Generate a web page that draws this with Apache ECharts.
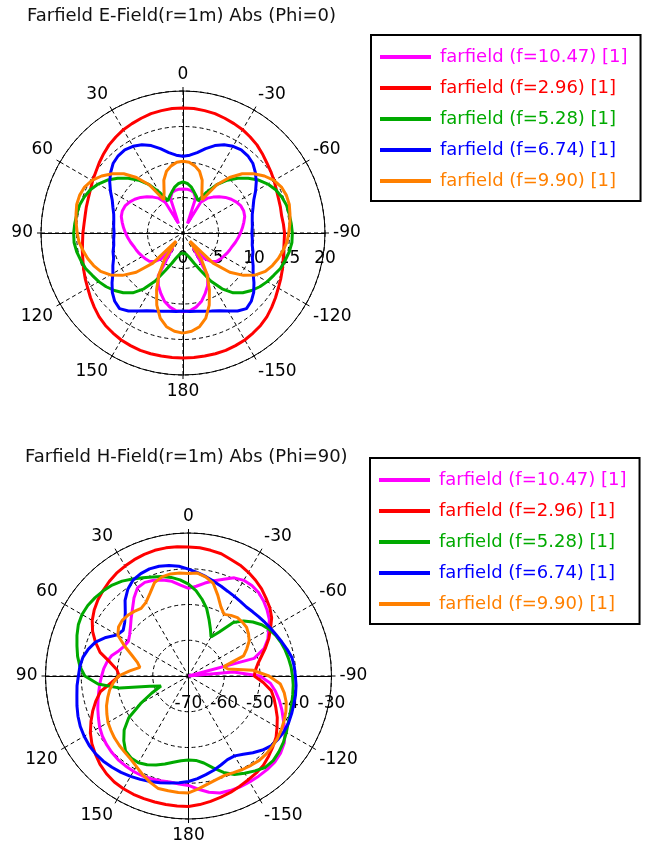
<!DOCTYPE html>
<html><head><meta charset="utf-8">
<script src="https://cdn.jsdelivr.net/npm/echarts@6/dist/echarts.min.js"></script>
<style>html,body{margin:0;padding:0;background:#fff}#c{width:646px;height:848px}</style>
</head><body><div id="c"></div>
<script>
// theta (deg), 0 = top, positive = counter-clockwise (left)
const thetaDeg = [-180,-175,-170,-165,-160,-155,-150,-145,-140,-135,-130,-125,-120,-115,-110,-105,-100,-95,-90,-85,-80,-75,-70,-65,-60,-55,-50,-45,-40,-35,-30,-25,-20,-15,-10,-5,
  0,5,10,15,20,25,30,35,40,45,50,55,60,65,70,75,80,85,90,95,100,105,110,115,120,125,130,135,140,145,150,155,160,165,170,175,180];

const seriesNames = ['farfield (f=10.47) [1]','farfield (f=2.96) [1]','farfield (f=5.28) [1]','farfield (f=6.74) [1]','farfield (f=9.90) [1]'];

// E-Field, Phi=0 (linear, 0..20)
const eMagenta = [11.1,11.0,10.6,10.0,9.1,8.2,7.0,2.5,4.7,5.7,6.2,6.4,6.6,6.8,7.0,7.2,7.5,7.8,8.1,8.4,8.7,9.0,9.1,9.0,8.7,8.3,7.8,7.2,6.6,6.0,5.0,1.5,5.2,5.9,6.1,6.2,
  6.2,6.2,6.1,5.9,5.2,1.5,5.0,6.0,6.6,7.2,7.8,8.3,8.7,9.0,9.1,9.0,8.7,8.4,8.1,7.8,7.5,7.2,7.0,6.8,6.6,6.4,6.2,5.7,4.7,2.5,7.0,8.2,9.1,10.0,10.6,11.0,11.1];
const eRed = [17.6,17.6,17.6,17.6,17.6,17.5,17.4,17.2,17.0,16.7,16.3,15.9,15.5,15.2,14.9,14.6,14.4,14.3,14.3,14.2,14.1,14.2,14.3,14.5,14.8,15.1,15.4,15.8,16.2,16.5,16.8,17.0,17.2,17.4,17.5,17.6,
  17.6,17.6,17.5,17.4,17.2,17.0,16.8,16.5,16.2,15.8,15.4,15.0,14.7,14.4,14.2,14.1,14.0,14.0,14.1,14.2,14.4,14.6,14.9,15.2,15.5,15.9,16.3,16.7,17.0,17.2,17.4,17.5,17.6,17.6,17.6,17.6,17.6];
const eGreen = [2.8,2.9,3.1,3.6,4.5,5.8,7.8,9.6,11.0,11.9,12.6,13.2,13.7,14.1,14.6,14.9,15.2,15.4,15.4,15.3,15.2,15.1,14.8,14.4,13.8,13.0,12.0,10.9,9.7,8.3,6.6,5.0,5.5,6.0,6.6,7.0,
  7.2,7.0,6.6,6.0,5.5,5.0,6.6,8.3,9.7,10.9,12.0,13.0,13.8,14.4,14.8,15.1,15.2,15.3,15.4,15.4,15.2,14.9,14.6,14.1,13.7,13.2,12.6,11.9,11.0,9.6,7.8,5.8,4.5,3.6,3.1,2.9,2.8];
const eBlue = [11.0,11.1,11.2,11.4,11.7,12.1,12.7,13.4,13.9,13.6,13.0,12.2,11.4,10.9,10.4,10.2,9.9,9.8,9.7,9.8,9.9,10.1,10.5,11.0,11.8,12.6,13.3,13.9,14.2,14.3,14.1,13.7,13.1,12.3,11.5,11.0,
  10.8,11.0,11.5,12.3,13.1,13.7,14.1,14.3,14.2,13.9,13.3,12.6,11.8,11.0,10.5,10.1,9.9,9.8,9.7,9.8,9.9,10.2,10.4,10.9,11.4,12.2,13.0,13.6,13.9,13.4,12.7,12.1,11.7,11.4,11.2,11.1,11.0];
const eOrange = [14.1,13.9,13.4,12.4,10.8,8.8,6.8,4.5,1.5,6.0,8.6,10.4,11.8,12.8,13.4,13.9,14.3,14.7,14.9,15.1,15.3,15.5,15.5,15.3,14.8,14.0,13.0,11.8,10.2,8.3,5.4,6.3,7.9,9.0,9.6,10.0,
  10.1,10.0,9.6,9.0,7.9,6.3,5.4,8.3,10.2,11.8,13.0,14.0,14.8,15.3,15.5,15.5,15.3,15.1,14.9,14.7,14.3,13.9,13.4,12.8,11.8,10.4,8.6,6.0,1.5,4.5,6.8,8.8,10.8,12.4,13.4,13.9,14.1];

// H-Field, Phi=90 (dB, -70..-30)
const hMagenta = [-39.4,-38.2,-37.0,-36.1,-35.9,-35.8,-35.8,-35.8,-35.8,-35.9,-36.4,-37.3,-38.8,-40.7,-42.2,-43.7,-45.3,-47.0,-50.0,-57.4,-70.0,-51.0,-47.5,-45.5,-44.1,-42.4,-41.3,-40.3,-39.5,-39.1,-39.1,-39.7,-41.2,-42.4,-43.6,-44.8,
  -45.5,-44.5,-43.1,-42.2,-41.5,-41.1,-41.5,-43.4,-45.6,-47.3,-48.8,-49.9,-50.6,-50.2,-49.3,-47.8,-46.9,-46.2,-45.7,-45.1,-44.5,-43.8,-43.0,-42.2,-41.3,-40.6,-40.1,-39.7,-39.4,-39.3,-39.2,-39.2,-39.4,-39.7,-39.9,-39.7,-39.4];
const hRed = [-33.5,-33.9,-34.4,-34.9,-35.4,-36.0,-36.5,-36.9,-37.4,-38.3,-39.2,-40.1,-41.4,-42.6,-44.0,-45.2,-46.5,-49.0,-51.6,-51.2,-50.3,-48.9,-47.1,-45.2,-43.5,-41.6,-40.3,-39.3,-38.2,-37.3,-36.5,-35.8,-35.3,-34.6,-34.3,-34.0,
  -33.9,-33.7,-33.6,-33.6,-33.8,-34.1,-34.5,-34.9,-35.5,-36.2,-36.9,-37.8,-38.9,-40.4,-42.3,-44.4,-47.7,-49.9,-50.6,-48.3,-45.0,-43.2,-41.5,-39.9,-38.3,-37.0,-36.0,-35.0,-34.3,-33.8,-33.6,-33.5,-33.5,-33.5,-33.5,-33.5,-33.5];
const hGreen = [-46.5,-46.3,-45.3,-43.4,-41.3,-39.6,-38.6,-37.6,-36.6,-36.5,-37.0,-37.6,-38.4,-39.2,-39.7,-40.1,-40.4,-40.6,-40.9,-41.2,-41.6,-42.0,-42.5,-43.1,-43.9,-45.0,-46.5,-48.2,-50.5,-55.0,-57.4,-55.5,-53.2,-50.4,-48.2,-46.0,
  -44.3,-43.0,-42.0,-41.2,-40.5,-39.7,-38.7,-37.6,-36.8,-36.3,-35.9,-35.6,-35.6,-36.0,-36.8,-37.7,-38.5,-39.5,-41.0,-44.6,-50.5,-58.8,-61.8,-58.6,-54.5,-49.6,-46.5,-44.4,-42.6,-42.0,-42.0,-42.6,-43.5,-44.5,-45.5,-46.2,-46.5];
const hBlue = [-40.5,-41.2,-42.0,-42.7,-43.5,-44.2,-44.2,-43.3,-42.0,-40.7,-39.7,-39.3,-39.1,-39.1,-39.3,-39.5,-39.6,-39.8,-40.1,-40.3,-40.6,-41.4,-42.2,-42.9,-43.4,-43.9,-44.3,-44.6,-44.8,-44.6,-44.3,-43.9,-43.3,-42.6,-41.8,-41.0,
  -40.1,-39.2,-38.6,-38.2,-38.1,-38.4,-39.0,-40.4,-42.4,-45.0,-46.7,-47.7,-47.0,-44.5,-42.3,-41.0,-40.0,-39.5,-39.2,-38.7,-38.3,-37.7,-37.1,-36.6,-36.3,-36.1,-36.1,-36.3,-36.7,-37.1,-37.6,-38.1,-38.6,-39.1,-39.6,-40.0,-40.5];
const hOrange = [-37.3,-38.3,-39.3,-40.0,-40.4,-40.2,-39.8,-39.5,-39.2,-39.2,-39.4,-39.6,-40.0,-40.5,-41.0,-41.7,-42.8,-44.2,-47.5,-51.8,-58.8,-59.8,-53.6,-52.0,-50.4,-49.5,-48.8,-48.7,-48.7,-49.3,-50.1,-48.6,-46.0,-43.2,-41.9,-41.1,
  -41.3,-41.1,-41.0,-41.3,-42.2,-44.5,-46.2,-46.9,-46.4,-46.0,-45.8,-46.1,-47.2,-50.3,-53.2,-55.2,-56.2,-53.5,-50.4,-48.9,-47.6,-46.6,-45.6,-44.8,-44.0,-43.5,-43.0,-42.6,-42.2,-41.7,-40.8,-39.6,-38.4,-37.4,-37.4,-37.3,-37.3];

const eRadiusRange = [0, 20, 5];
const hRadiusRange = [-70, -30, 10];
const titles = ['Farfield E-Field(r=1m) Abs (Phi=0)', 'Farfield H-Field(r=1m) Abs (Phi=90)'];

const colors = ['#ff00ff', '#ff0000', '#00aa00', '#0000ff', '#ff8000'];
const FONT = 'DejaVu Sans';
const charts = [
  {center: [183, 233], radius: 142, range: eRadiusRange, labelMargin: -17, data: [eMagenta, eRed, eGreen, eBlue, eOrange]},
  {center: [188.5, 676], radius: 143, range: hRadiusRange, labelMargin: -19, data: [hMagenta, hRed, hGreen, hBlue, hOrange]}
];

function pts(vals) {
  return vals.map((v, i) => {
    let a = thetaDeg[i];
    if (a < -90) a += 360;
    return [v, a];
  });
}

const polar = [], angleAxis = [], radiusAxis = [], series = [];
const dash = [4, 3];
charts.forEach((c, ci) => {
  const base = polar.length;
  polar.push({center: c.center, radius: c.radius});
  angleAxis.push({
    polarIndex: base, type: 'value', min: -90, max: 270, interval: 30, startAngle: 0, clockwise: false,
    axisLine: {show: true, lineStyle: {color: '#000', width: 1}},
    axisTick: {show: true, length: 4, lineStyle: {color: '#000', width: 1}},
    axisLabel: {show: true, margin: 8, fontSize: 17, fontFamily: FONT, color: '#000',
      formatter: v => (v === 270 ? '' : String(v > 180 ? v - 360 : v))},
    splitLine: {show: true, lineStyle: {color: '#000', width: 1, type: dash}}
  });
  radiusAxis.push({
    polarIndex: base, type: 'value', min: c.range[0], max: c.range[1], interval: c.range[2], z: 0,
    axisLine: {show: true, lineStyle: {color: '#000', width: 1}},
    axisTick: {show: false},
    axisLabel: {show: true, margin: c.labelMargin, verticalAlign: 'top', align: 'center', fontSize: 17, fontFamily: FONT, color: '#000'},
    splitLine: {show: true, lineStyle: {color: '#000', width: 1, type: dash}}
  });
  [90, 180, 270].forEach(sa => {
    const idx = polar.length;
    polar.push({center: c.center, radius: c.radius});
    angleAxis.push({polarIndex: idx, type: 'value', min: 0, max: 360, startAngle: sa, show: false});
    radiusAxis.push({polarIndex: idx, type: 'value', min: c.range[0], max: c.range[1], z: 0,
      axisLine: {show: true, lineStyle: {color: '#000', width: 1}},
      axisTick: {show: false}, axisLabel: {show: false}, splitLine: {show: false}});
  });
  c.data.forEach((vals, si) => {
    series.push({
      name: seriesNames[si], type: 'line', coordinateSystem: 'polar', polarIndex: base,
      data: pts(vals), symbol: 'none', showSymbol: false, smooth: false, z: 3,
      lineStyle: {width: 3, color: colors[si]}, itemStyle: {color: colors[si]},
      emphasis: {disabled: true}
    });
  });
});

const legendCommon = {
  data: seriesNames, orient: 'vertical', icon: 'rect', itemWidth: 51, itemHeight: 4, itemGap: 13,
  padding: [13, 13, 11, 9], borderColor: '#000', borderWidth: 2, selectedMode: false,
  textStyle: {color: 'inherit', fontSize: 18, fontFamily: FONT, padding: [0, 0, 0, 4]}
};

const chart = echarts.init(document.getElementById('c'), null, {renderer: 'canvas'});
chart.setOption({
  animation: false,
  backgroundColor: '#fff',
  textStyle: {fontFamily: FONT},
  title: [
    {text: titles[0], left: 27, top: 7, padding: 0, textStyle: {fontFamily: FONT, fontSize: 18, fontWeight: 'normal', color: '#111'}},
    {text: titles[1], left: 25, top: 448, padding: 0, textStyle: {fontFamily: FONT, fontSize: 18, fontWeight: 'normal', color: '#111'}}
  ],
  legend: [
    Object.assign({left: 371, top: 35}, legendCommon),
    Object.assign({left: 370, top: 458}, legendCommon)
  ],
  polar, angleAxis, radiusAxis, series
});
</script></body></html>
